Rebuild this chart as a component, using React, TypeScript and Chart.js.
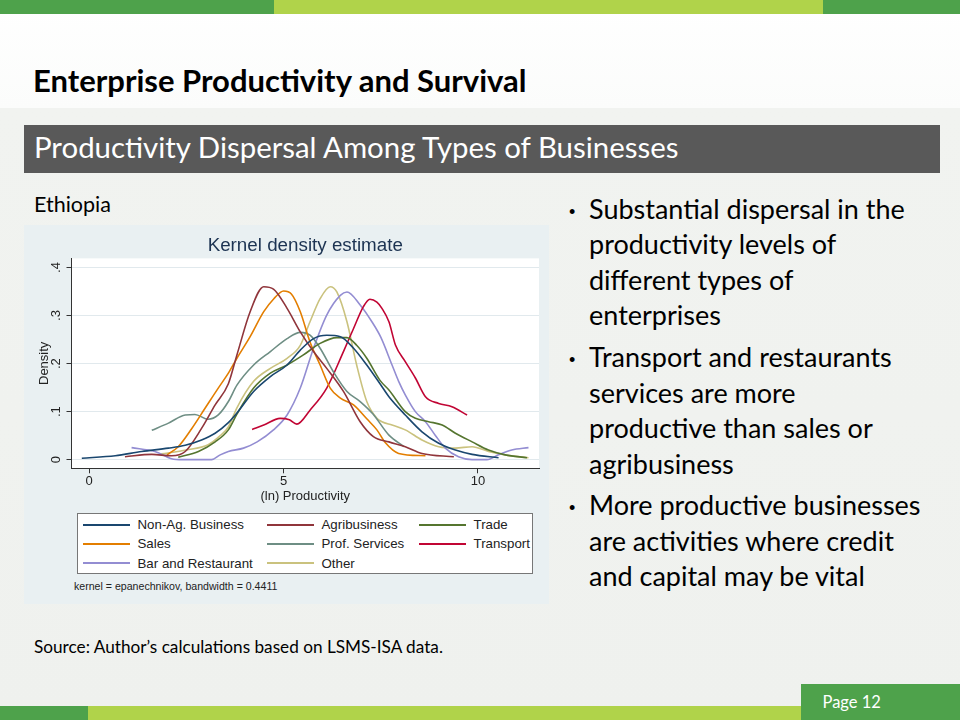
import React, { useEffect, useRef } from "react";
import { Chart, registerables } from "chart.js";

Chart.register(...registerables);

// ---------- data ----------
const SERIES_NAMES = [
  "Non-Ag. Business",
  "Agribusiness",
  "Trade",
  "Sales",
  "Prof. Services",
  "Transport",
  "Bar and Restaurant",
  "Other",
];
const SERIES_COLORS = ["#1a476f", "#90353b", "#55752f", "#e37e00", "#6e8e84", "#c10534", "#938dd2", "#cac27e"];

const nonAgBusiness: [number, number][] = [
  [-0.19, 0.003], [0.67, 0.008], [1.35, 0.017], [2.04, 0.024], [2.47, 0.03], [2.89, 0.041], [3.24, 0.055],
  [3.58, 0.077], [3.8, 0.097], [4.23, 0.142], [4.66, 0.173], [5.09, 0.197], [5.43, 0.228], [5.77, 0.252],
  [6.11, 0.259], [6.46, 0.256], [6.8, 0.232], [7.14, 0.197], [7.48, 0.158], [7.71, 0.131], [8.13, 0.093],
  [8.56, 0.058], [8.99, 0.034], [9.42, 0.02], [9.85, 0.011], [10.53, 0.004],
];
const agribusiness: [number, number][] = [
  [0.92, 0.006], [1.61, 0.011], [2.12, 0.008], [2.47, 0.017], [2.89, 0.065], [3.24, 0.114], [3.58, 0.158],
  [3.8, 0.218], [4.14, 0.308], [4.49, 0.36], [4.74, 0.355], [5.09, 0.315], [5.43, 0.266], [5.77, 0.225],
  [6.11, 0.19], [6.54, 0.142], [6.97, 0.079], [7.31, 0.048], [7.71, 0.037], [8.13, 0.027], [8.56, 0.013],
  [9.38, 0.006],
];
const trade: [number, number][] = [
  [2.29, 0.005], [2.81, 0.017], [3.24, 0.037], [3.58, 0.062], [3.8, 0.095], [4.23, 0.149], [4.66, 0.18],
  [5.09, 0.197], [5.51, 0.218], [5.94, 0.242], [6.37, 0.254], [6.63, 0.254], [6.88, 0.238], [7.14, 0.211],
  [7.48, 0.165], [7.71, 0.145], [8.13, 0.1], [8.39, 0.086], [8.73, 0.079], [9.08, 0.072], [9.42, 0.055],
  [9.85, 0.037], [10.27, 0.02], [10.7, 0.01], [11.26, 0.004],
];
const sales: [number, number][] = [
  [2.0, 0.01], [2.29, 0.027], [2.64, 0.065], [2.98, 0.107], [3.32, 0.149], [3.58, 0.18], [3.8, 0.211],
  [4.14, 0.256], [4.49, 0.308], [4.75, 0.335], [5.0, 0.351], [5.2, 0.345], [5.43, 0.308], [5.68, 0.245],
  [5.94, 0.197], [6.2, 0.149], [6.46, 0.128], [6.8, 0.114], [7.14, 0.085], [7.4, 0.062], [7.62, 0.035],
  [7.96, 0.013], [8.65, 0.008],
];
const profServices: [number, number][] = [
  [1.61, 0.061], [2.04, 0.076], [2.47, 0.093], [2.72, 0.094], [3.06, 0.084], [3.32, 0.093], [3.58, 0.121],
  [3.8, 0.155], [4.23, 0.197], [4.66, 0.225], [5.09, 0.252], [5.43, 0.265], [5.68, 0.259], [5.94, 0.232],
  [6.28, 0.183], [6.63, 0.142], [6.97, 0.121], [7.3, 0.095], [7.71, 0.051], [8.1, 0.027],
];
const transport: [number, number][] = [
  [4.19, 0.063], [4.49, 0.072], [4.91, 0.086], [5.15, 0.083], [5.34, 0.074], [5.68, 0.103], [6.11, 0.149],
  [6.54, 0.225], [6.8, 0.273], [7.05, 0.318], [7.22, 0.334], [7.4, 0.328], [7.53, 0.315], [7.71, 0.287],
  [7.88, 0.238], [8.13, 0.204], [8.39, 0.17], [8.65, 0.131], [8.99, 0.117], [9.33, 0.11], [9.72, 0.093],
];
const barAndRestaurant: [number, number][] = [
  [1.09, 0.025], [1.69, 0.017], [2.12, 0.002], [2.4, 0], [3.15, 0], [3.37, 0.01], [3.58, 0.017], [3.97, 0.024],
  [4.32, 0.037], [4.74, 0.062], [5.09, 0.093], [5.43, 0.149], [5.77, 0.232], [6.11, 0.301], [6.46, 0.342],
  [6.63, 0.349], [6.97, 0.322], [7.28, 0.286], [7.5, 0.255], [7.79, 0.197], [7.96, 0.163], [8.13, 0.135],
  [8.39, 0.1], [8.65, 0.079], [8.9, 0.051], [9.16, 0.024], [9.5, 0.006], [9.85, 0], [10.23, 0], [10.53, 0.01],
  [10.87, 0.02], [11.3, 0.025],
];
const other: [number, number][] = [
  [1.85, 0.012], [2.5, 0.02], [3.06, 0.031], [3.37, 0.05], [3.58, 0.068], [3.8, 0.108], [4.23, 0.163],
  [4.66, 0.19], [5.09, 0.211], [5.43, 0.238], [5.68, 0.287], [5.94, 0.335], [6.2, 0.36], [6.37, 0.349],
  [6.63, 0.287], [6.88, 0.197], [7.14, 0.121], [7.4, 0.086], [7.53, 0.079], [7.79, 0.072], [8.13, 0.062],
  [8.56, 0.041], [8.99, 0.027], [9.42, 0.024], [9.85, 0.027], [10.27, 0.017], [10.7, 0.01], [11.3, 0.004],
];
const SERIES_DATA = [nonAgBusiness, agribusiness, trade, sales, profServices, transport, barAndRestaurant, other];

const X_TICKS = [0, 5, 10];
const X_TICK_LABELS = ["0", "5", "10"];
const Y_TICKS = [0, 0.1, 0.2, 0.3, 0.4];
const Y_TICK_LABELS = ["0", ".1", ".2", ".3", ".4"];
const X_RANGE = [-0.455, 11.57];
const Y_RANGE = [-0.018, 0.419];

const CHART_TITLE = "Kernel density estimate";
const X_TITLE = "(ln) Productivity";
const Y_TITLE = "Density";
const NOTE = "kernel = epanechnikov, bandwidth = 0.4411";

const SLIDE_TITLE = "Enterprise Productivity and Survival";
const SUBTITLE = "Productivity Dispersal Among Types of Businesses";
const COUNTRY = "Ethiopia";
const SOURCE = "Source: Author\u2019s calculations based on LSMS-ISA data.";
const PAGE = "Page 12";
const BULLETS: string[][] = [
  ["Substantial dispersal in the", "productivity levels of", "different types of", "enterprises"],
  ["Transport and restaurants", "services are more", "productive than sales or", "agribusiness"],
  ["More productive businesses", "are activities where credit", "and capital may be vital"],
];

// ---------- styles ----------
const STATA_FONT = '"Liberation Sans", Arial, sans-serif';
const SLIDE_FONT = 'Lato, "Open Sans", sans-serif';
const GREEN = "#4ea24b";
const LIME = "#b0d34a";
const GRAPH_BG = "#e9f0f2";

const plotBackground = {
  id: "plotBackground",
  beforeDraw(chart: any) {
    const { ctx, chartArea: a } = chart;
    ctx.save();
    ctx.fillStyle = "#ffffff";
    ctx.fillRect(a.left, a.top, a.right - a.left, a.bottom - a.top);
    ctx.restore();
  },
};

const rotatedYTickLabels = {
  id: "rotatedYTickLabels",
  afterDraw(chart: any) {
    const { ctx } = chart;
    const y = chart.scales.y;
    ctx.save();
    ctx.font = `13px ${STATA_FONT}`;
    ctx.fillStyle = "#222";
    ctx.textAlign = "center";
    ctx.textBaseline = "middle";
    Y_TICKS.forEach((v, i) => {
      const py = y.getPixelForValue(v);
      ctx.save();
      ctx.translate(y.right - 15, py);
      ctx.rotate(-Math.PI / 2);
      ctx.fillText(Y_TICK_LABELS[i], 0, 0);
      ctx.restore();
    });
    ctx.restore();
  },
};

function DensityChart() {
  const ref = useRef<HTMLCanvasElement | null>(null);
  useEffect(() => {
    if (!ref.current) return;
    const chart = new Chart(ref.current, {
      type: "scatter",
      data: {
        datasets: SERIES_DATA.map((d, i) => ({
          label: SERIES_NAMES[i],
          data: d.map(([x, y]) => ({ x, y })),
          showLine: true,
          borderColor: SERIES_COLORS[i],
          backgroundColor: SERIES_COLORS[i],
          borderWidth: 1.6,
          pointRadius: 0,
          pointHoverRadius: 0,
          cubicInterpolationMode: "monotone",
          fill: false,
        })),
      },
      options: {
        animation: false,
        responsive: false,
        maintainAspectRatio: false,
        events: [],
        layout: { padding: { left: 0, right: 10, top: 0, bottom: 0 } },
        plugins: {
          legend: { display: false },
          tooltip: { enabled: false },
          title: {
            display: true,
            text: CHART_TITLE,
            fullSize: false,
            color: "#1c3352",
            font: { family: STATA_FONT, size: 18.8, weight: "normal" },
            padding: { top: 9.2, bottom: 1.6 },
          },
        },
        scales: {
          x: {
            type: "linear",
            min: X_RANGE[0],
            max: X_RANGE[1],
            afterBuildTicks: (s: any) => {
              s.ticks = X_TICKS.map((v) => ({ value: v }));
            },
            afterFit: (s: any) => {
              s.height = 38.7;
            },
            ticks: {
              color: "#222",
              font: { family: STATA_FONT, size: 13 },
              padding: 0,
              maxRotation: 0,
              autoSkip: false,
              callback: (v: any) => {
                const i = X_TICKS.indexOf(Number(v));
                return i >= 0 ? X_TICK_LABELS[i] : "";
              },
            },
            grid: { drawOnChartArea: false, drawTicks: true, tickLength: 5, color: "#333", tickColor: "#333" },
            border: { display: true, color: "#333", width: 1 },
            title: {
              display: true,
              text: X_TITLE,
              color: "#222",
              font: { family: STATA_FONT, size: 13 },
              padding: { top: 0, bottom: 3.2 },
            },
          },
          y: {
            type: "linear",
            min: Y_RANGE[0],
            max: Y_RANGE[1],
            afterBuildTicks: (s: any) => {
              s.ticks = Y_TICKS.map((v) => ({ value: v }));
            },
            afterFit: (s: any) => {
              s.width = 47.5;
            },
            ticks: { color: "rgba(0,0,0,0)", font: { family: STATA_FONT, size: 13 }, padding: 4 },
            grid: { drawOnChartArea: true, drawTicks: true, tickLength: 5, color: "#e1e9ed", tickColor: "#333", lineWidth: 1 },
            border: { display: true, color: "#333", width: 1 },
            title: {
              display: true,
              text: Y_TITLE,
              color: "#222",
              font: { family: STATA_FONT, size: 13 },
              padding: { top: 12.2, bottom: 0 },
            },
          },
        },
      } as any,
      plugins: [plotBackground, rotatedYTickLabels],
    });
    return () => chart.destroy();
  }, []);
  return <canvas ref={ref} width={525} height={282} style={{ position: "absolute", left: 0, top: 0, width: 525, height: 282 }} />;
}

const LEGEND_COL_LEFT = [5.5, 189.5, 341.5];
const BULLET_TOPS = [190.6, 339.3, 487.3];

export default function App() {
  return (
    <div
      style={{
        position: "absolute",
        left: 0,
        top: 0,
        width: 960,
        height: 720,
        overflow: "hidden",
        fontFamily: SLIDE_FONT,
        background: "linear-gradient(to bottom, #ffffff 0px, #fbfcfb 108px, #f1f3f0 108px, #eff1ee 720px)",
      }}
    >
      {/* top bars */}
      <div style={{ position: "absolute", left: 0, top: 0, width: 274, height: 14, background: GREEN }} />
      <div style={{ position: "absolute", left: 274, top: 0, width: 549, height: 14, background: LIME }} />
      <div style={{ position: "absolute", left: 823, top: 0, width: 137, height: 14, background: GREEN }} />

      {/* titles */}
      <div style={{ position: "absolute", left: 33, top: 62.4, fontSize: 31, lineHeight: "37.2px", fontWeight: 700, color: "#000", whiteSpace: "nowrap" }}>
        {SLIDE_TITLE}
      </div>
      <div style={{ position: "absolute", left: 24, top: 125, width: 916, height: 48, background: "#595959" }} />
      <div style={{ position: "absolute", left: 34, top: 129.2, fontSize: 29.4, lineHeight: "35.3px", color: "#fff", whiteSpace: "nowrap" }}>
        {SUBTITLE}
      </div>
      <div style={{ position: "absolute", left: 34, top: 191.5, fontSize: 21.5, lineHeight: "25.8px", color: "#000", whiteSpace: "nowrap" }}>
        {COUNTRY}
      </div>

      {/* Stata graph region */}
      <div style={{ position: "absolute", left: 24, top: 225, width: 525, height: 379, background: GRAPH_BG, fontFamily: STATA_FONT }}>
        <DensityChart />
        <div
          style={{
            position: "absolute",
            left: 52.5,
            top: 287.5,
            width: 456,
            height: 61,
            background: "#fff",
            border: "1px solid #777",
            boxSizing: "border-box",
          }}
        >
          {SERIES_NAMES.map((name, i) => {
            const row = Math.floor(i / 3);
            const col = i % 3;
            return (
              <div
                key={name}
                style={{
                  position: "absolute",
                  left: LEGEND_COL_LEFT[col],
                  top: 1.5 + row * 19.3,
                  height: 19.3,
                  display: "flex",
                  alignItems: "center",
                  whiteSpace: "nowrap",
                  fontSize: 13.3,
                  color: "#222",
                }}
              >
                <span style={{ display: "inline-block", width: 47, height: 2, background: SERIES_COLORS[i], marginRight: 7.5 }} />
                <span>{name}</span>
              </div>
            );
          })}
        </div>
        <div style={{ position: "absolute", left: 50, top: 354.5, fontSize: 10.6, lineHeight: "13px", color: "#222", whiteSpace: "nowrap" }}>
          {NOTE}
        </div>
      </div>

      {/* bullets */}
      {BULLETS.map((lines, bi) => (
        <div
          key={bi}
          style={{
            position: "absolute",
            left: 589,
            top: BULLET_TOPS[bi],
            fontSize: 27,
            lineHeight: "35.5px",
            color: "#000",
            whiteSpace: "nowrap",
          }}
        >
          <span style={{ position: "absolute", left: -20, top: 4, fontSize: 18, fontFamily: STATA_FONT }}>{"\u2022"}</span>
          {lines.map((l, li) => (
            <div key={li}>{l}</div>
          ))}
        </div>
      ))}

      {/* source */}
      <div style={{ position: "absolute", left: 34, top: 636.5, fontSize: 17.2, lineHeight: "20.6px", color: "#000", whiteSpace: "nowrap" }}>
        {SOURCE}
      </div>

      {/* bottom bars */}
      <div style={{ position: "absolute", left: 0, top: 706, width: 88, height: 14, background: GREEN }} />
      <div style={{ position: "absolute", left: 88, top: 706, width: 713, height: 14, background: LIME }} />
      <div style={{ position: "absolute", left: 801, top: 684, width: 159, height: 36, background: GREEN }} />
      <div style={{ position: "absolute", left: 822.5, top: 692.7, fontSize: 16.5, lineHeight: "19.8px", color: "#fff", whiteSpace: "nowrap" }}>
        {PAGE}
      </div>
    </div>
  );
}
